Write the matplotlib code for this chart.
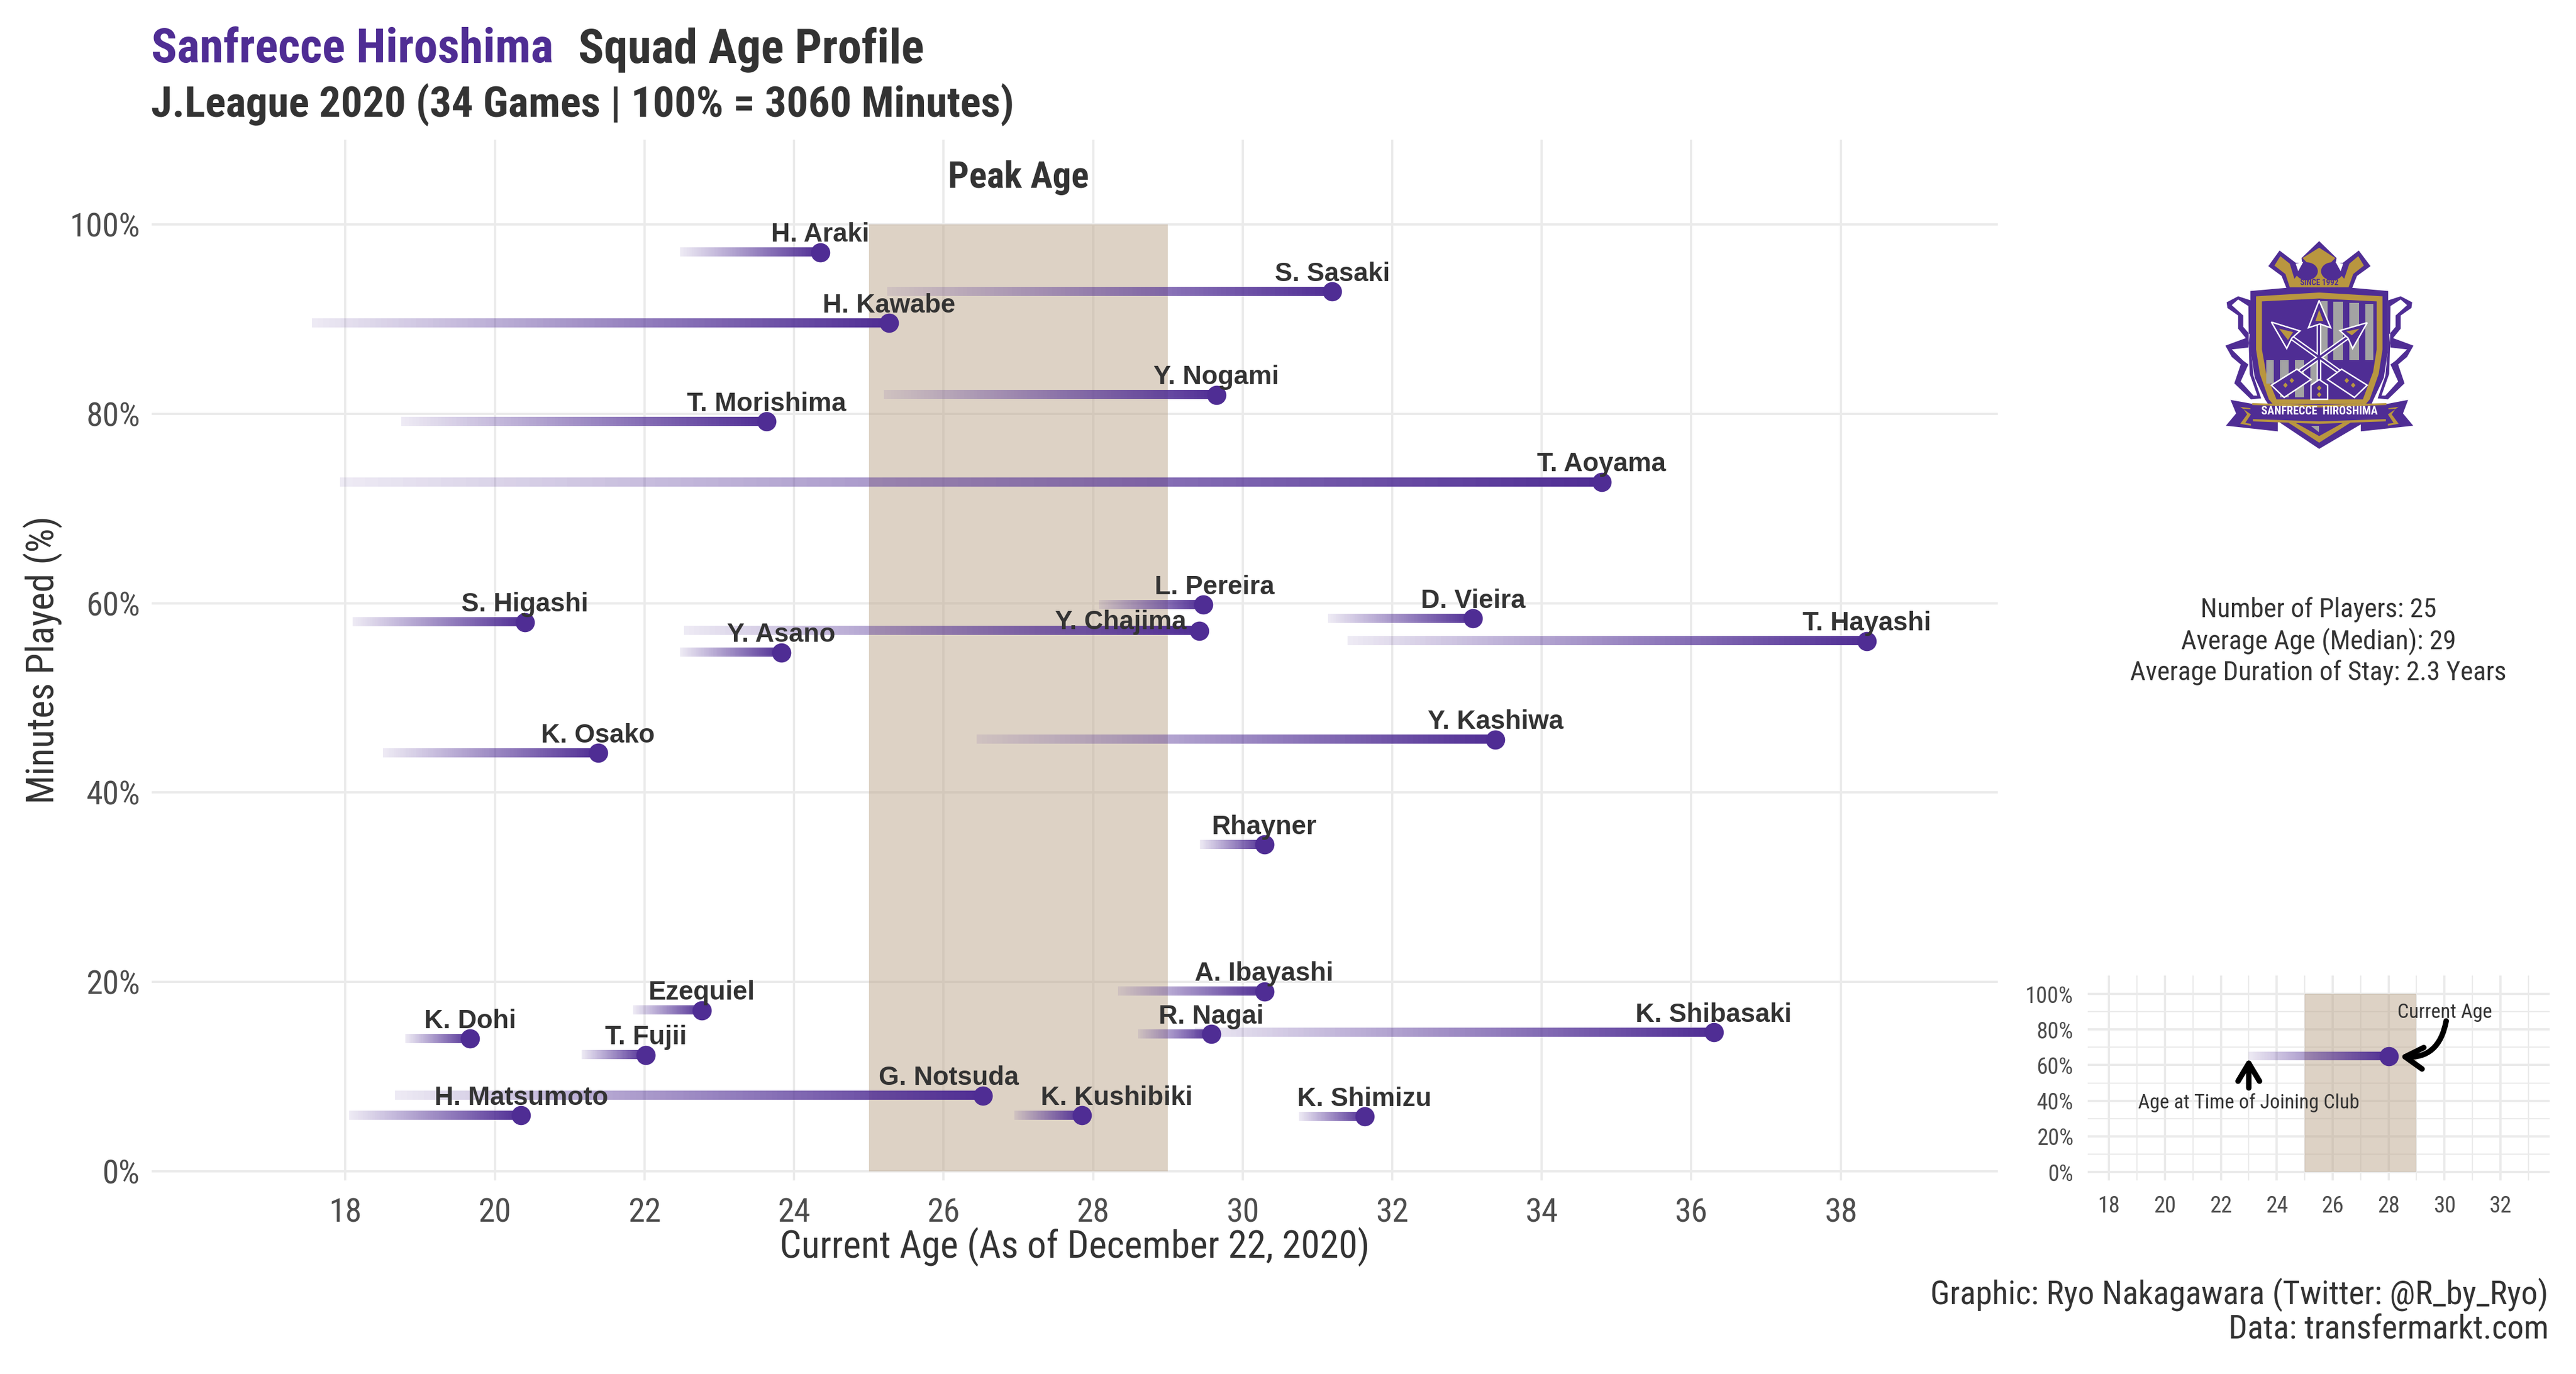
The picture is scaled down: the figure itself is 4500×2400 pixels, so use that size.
import numpy as np
import matplotlib
matplotlib.use("Agg")
import matplotlib.pyplot as plt
from matplotlib import font_manager as fm
from matplotlib.patches import Ellipse, Polygon, Rectangle, FancyArrowPatch

# Data
players = ["H. Araki", "S. Sasaki", "H. Kawabe", "Y. Nogami", "T. Morishima", "T. Aoyama",
           "L. Pereira", "S. Higashi", "Y. Chajima", "D. Vieira", "T. Hayashi", "Y. Asano",
           "K. Osako", "Y. Kashiwa", "Rhayner", "A. Ibayashi", "Ezequiel", "K. Shibasaki",
           "R. Nagai", "K. Dohi", "T. Fujii", "G. Notsuda", "H. Matsumoto", "K. Kushibiki",
           "K. Shimizu"]
age_joined = [22.48, 25.25, 17.55, 25.2, 18.75, 17.93,
              28.08, 18.1, 22.53, 31.14, 31.4, 22.48,
              18.5, 26.44, 29.43, 28.33, 21.85, 29.36,
              28.6, 18.8, 21.16, 18.66, 18.05, 26.95,
              30.75]
age_now = [24.35, 31.2, 25.27, 29.65, 23.63, 34.8,
           29.47, 20.4, 29.42, 33.08, 38.35, 23.83,
           21.38, 33.38, 30.29, 30.29, 22.77, 36.3,
           29.58, 19.67, 22.02, 26.53, 20.35, 27.85,
           31.63]
minutes_pct = [97.05, 92.9, 89.6, 82.0, 79.2, 72.8,
               59.85, 58.0, 57.1, 58.4, 56.0, 54.8,
               44.2, 45.6, 34.5, 19.0, 17.0, 14.67,
               14.5, 14.0, 12.3, 8.0, 5.9, 5.9,
               5.8]
x_ticks = [18, 20, 22, 24, 26, 28, 30, 32, 34, 36, 38]
y_ticks = [0, 20, 40, 60, 80, 100]
y_labels = ["0%", "20%", "40%", "60%", "80%", "100%"]
peak_age = (25, 29)
info_lines = ["Number of Players: 25", "Average Age (Median): 29", "Average Duration of Stay: 2.3 Years"]

inset_x_ticks = [18, 20, 22, 24, 26, 28, 30, 32]
inset_joined = 23
inset_now = 28
inset_pct = 65

PURPLE = "#4f2d94"
GOLD = "#b9963f"
GREY = "#a3a3a3"
DARK = "#333333"
TICK = "#4d4d4d"
PEAK = "#bda68c"
W, H = 4500, 2400

available = {f.name for f in fm.fontManager.ttflist}
NARROW = "Roboto Condensed" if "Roboto Condensed" in available else "Liberation Sans Narrow"
LABEL_FONT = "Liberation Sans"

fig = plt.figure(figsize=(15, 8), dpi=300, facecolor="white")


def px_axes(x0, y0, x1, y1, **kw):
    return fig.add_axes([x0 / W, 1 - y1 / H, (x1 - x0) / W, (y1 - y0) / H], **kw)


def px_text(x, y, s, **kw):
    kw.setdefault("family", NARROW)
    kw.setdefault("color", DARK)
    kw.setdefault("va", "center")
    return fig.text(x / W, 1 - y / H, s, **kw)


def gradient_line(ax, x0, x1, y, half):
    # fading bar, one row of colour stepping up to solid purple
    cols = np.tile(matplotlib.colors.to_rgba(PURPLE), (1, 100, 1))
    cols[0, :, 3] = np.linspace(0.1, 1, 100)
    ax.imshow(cols, extent=(x0, x1, y - half, y + half), aspect="auto", interpolation="nearest", zorder=3)


def clean(ax):
    for s in ax.spines.values():
        s.set_visible(False)
    ax.set_axisbelow(True)


# Main panel
ax = px_axes(265, 244, 3490, 2062)
ax.set_xlim(15.41, 40.1)
ax.set_ylim(-0.967, 108.95)
clean(ax)
ax.set_xticks(x_ticks)
ax.set_yticks(y_ticks, y_labels)
ax.grid(True, color="#ebebeb", lw=0.95)
ax.tick_params(length=0, labelsize=14, labelcolor=TICK)
ax.tick_params(axis="x", pad=7)
ax.tick_params(axis="y", pad=4.8)
for t in ax.get_xticklabels() + ax.get_yticklabels():
    t.set_family(NARROW)
ax.add_patch(Rectangle((peak_age[0], 0), peak_age[1] - peak_age[0], 100, facecolor=PEAK, alpha=0.5, lw=0, zorder=2))
ax.text(sum(peak_age) / 2, 104.95, "Peak Age", family=NARROW, weight="bold", fontsize=15.5, color=DARK, ha="center", va="center")

label_nudge = {"L. Pereira": (4.8, 0), "Y. Chajima": (-33, -3.9), "G. Notsuda": (-14.5, 0), "K. Kushibiki": (14.5, 0)}
for name, a0, a1, p in zip(players, age_joined, age_now, minutes_pct):
    gradient_line(ax, a0, a1, p, 0.46)
    ax.scatter([a1], [p], s=65, color=PURPLE, lw=0, zorder=4)
    dx, dy = label_nudge.get(name, (0, 0))
    ax.annotate(name, (a1, p), xytext=(dx, 7.3 + dy), textcoords="offset points", ha="center", va="center",
                family=LABEL_FONT, weight="bold", fontsize=11, color=DARK, zorder=5)

# Titles and outer text
px_text(264, 87, "Sanfrecce Hiroshima", weight="bold", fontsize=20.15, color=PURPLE)
px_text(1010, 87, "Squad Age Profile", weight="bold", fontsize=20)
px_text(264, 183, "J.League 2020 (34 Games | 100% = 3060 Minutes)", weight="bold", fontsize=18)
px_text(1877, 2178, "Current Age (As of December 22, 2020)", fontsize=16, ha="center")
px_text(75, 1153, "Minutes Played (%)", fontsize=16, ha="center", rotation=90)
for i, line in enumerate(info_lines):
    px_text(4050, 1065 + i * 55, line, fontsize=11.3, ha="center")
px_text(4452, 2261, "Graphic: Ryo Nakagawara (Twitter: @R_by_Ryo)", fontsize=13.9, ha="right")
px_text(4452, 2322, "Data: transfermarkt.com", fontsize=13.9, ha="right")

# Inset explaining the marks
inset = px_axes(3647, 1704, 4454, 2062)
inset.set_xlim(17.24, 33.76)
inset.set_ylim(-4.8, 110.3)
clean(inset)
inset.set_xticks(inset_x_ticks)
inset.set_yticks(y_ticks, y_labels)
inset.set_xticks(np.arange(19, 34, 2), minor=True)
inset.set_yticks(np.arange(10, 110, 20), minor=True)
inset.grid(True, which="major", color="#ebebeb", lw=0.95)
inset.grid(True, which="minor", color="#ebebeb", lw=0.55)
inset.tick_params(which="both", length=0)
inset.tick_params(labelsize=9.5, labelcolor=TICK, pad=6)
for t in inset.get_xticklabels() + inset.get_yticklabels():
    t.set_family(NARROW)
inset.add_patch(Rectangle((peak_age[0], 0), peak_age[1] - peak_age[0], 100, facecolor=PEAK, alpha=0.5, lw=0, zorder=2))
gradient_line(inset, inset_joined, inset_now, inset_pct, 2.4)
inset.scatter([inset_now], [inset_pct], s=65, color=PURPLE, lw=0, zorder=4)
inset.text(30, 89.5, "Current Age", family=NARROW, fontsize=8.5, color=DARK, ha="center", va="center", zorder=6)
inset.text(23, 39, "Age at Time of Joining Club", family=NARROW, fontsize=8.5, color=DARK, ha="center", va="center", zorder=6)
inset.add_patch(FancyArrowPatch((23, 47.2), (23, 64), arrowstyle="->,head_length=5,head_width=3", lw=2.3, color="black",
                                mutation_scale=1.5, shrinkA=0, shrinkB=0, zorder=6))
inset.add_patch(FancyArrowPatch((30.06, 84.8), (28.4, 64.9), connectionstyle="arc3,rad=-0.45", arrowstyle="->,head_length=5,head_width=3",
                                lw=2.3, color="black", mutation_scale=1.5, shrinkA=0, shrinkB=0, zorder=6))

# Club crest, traced by hand in its own little coordinate box
crest = px_axes(3700, 380, 4400, 840)
crest.set_xlim(0, 1568)
crest.set_ylim(1398, 0)
crest.axis("off")


def poly(points, fc, ec="none", lw=0, z=1):
    crest.add_patch(Polygon(points, closed=True, facecolor=fc, edgecolor=ec, lw=lw, zorder=z, joinstyle="miter"))


def mirror(points):
    return [(1576 - x, y) for x, y in points]


# crown
poly([(660, 378), (640, 310), (588, 258), (632, 175), (695, 240), (720, 240), (718, 215), (787, 125), (855, 215), (852, 240),
      (880, 240), (942, 175), (988, 258), (935, 310), (915, 378)], PURPLE, z=1)
poly([(672, 370), (655, 300), (612, 255), (635, 205), (672, 245), (690, 325), (740, 240), (722, 215), (787, 160),
      (850, 215), (832, 240), (885, 325), (905, 245), (940, 205), (962, 255), (920, 300), (902, 370)], GOLD, z=2)
for cx in (738, 838):
    crest.add_patch(Ellipse((cx, 285), 78, 82, color=PURPLE, zorder=3))
poly([(695, 245), (725, 235), (705, 285)], "white", z=4)
poly(mirror([(695, 245), (725, 235), (705, 285)]), "white", z=4)
crest.text(787, 345, "SINCE 1992", family=NARROW, weight="bold", fontsize=3.4, color=PURPLE, ha="center", va="center", zorder=4)

# side scrolls
scroll = [(520, 440), (470, 418), (425, 450), (428, 480), (470, 520), (470, 590), (500, 640), (420, 680), (445, 740), (480, 780), (455, 880),
          (520, 965), (560, 960), (530, 840), (520, 700)]
scroll_in = [(510, 470), (470, 435), (445, 465), (490, 520), (490, 580), (515, 620), (510, 690), (445, 700), (490, 760), (510, 780), (480, 870),
             (530, 945), (545, 945), (515, 830), (512, 700)]
for pts, inner in ((scroll, scroll_in), (mirror(scroll), mirror(scroll_in))):
    poly(pts, PURPLE, z=1)
    poly(inner, "white", z=2)

# shield
outer = [(518, 390), (660, 373), (915, 373), (1057, 390), (1057, 700), (1040, 850), (1000, 965), (960, 1090), (787, 1228), (635, 1090), (575, 965),
         (535, 850), (518, 700)]
gold = [(540, 418), (787, 398), (1035, 418), (1035, 700), (1020, 830), (985, 965), (908, 1090), (787, 1195), (668, 1090), (590, 965), (555, 830),
        (540, 700)]
field = [(563, 445), (787, 430), (1012, 445), (1012, 700), (998, 820), (958, 965), (620, 965), (580, 830), (563, 700)]
poly(outer, PURPLE, z=3)
poly(gold, GOLD, z=4)
poly(field, PURPLE, z=5)
poly([(695, 1090), (787, 1160), (880, 1090)], PURPLE, z=5)
poly([(755, 1105), (787, 1105), (787, 1140)], GREY, z=6)
for x0, x1, y0, y1 in [(795, 820, 445, 757), (843, 880, 448, 757), (905, 942, 453, 757), (967, 998, 460, 757),
                       (580, 610, 757, 880), (635, 668, 757, 955), (692, 728, 757, 955), (752, 778, 757, 905)]:
    poly([(x0, y0), (x1, y0), (x1, y1), (x0, y1)], GREY, z=6)

# arrows
for (x0, y0, x1, y1) in [(787, 960, 787, 500), (625, 900, 950, 585), (950, 900, 625, 585)]:
    crest.plot([x0, x1], [y0, y1], color="white", lw=2.0, zorder=7, solid_capstyle="butt")
    crest.plot([x0, x1], [y0, y1], color=PURPLE, lw=0.9, zorder=8, solid_capstyle="butt")
heads = [[(787, 440), (832, 585), (790, 565), (745, 585)], [(975, 558), (918, 695), (900, 640), (868, 600)], [(600, 555), (712, 602), (680, 640), (660, 695)]]
tips = [[(787, 490), (803, 550), (772, 550)], [(945, 590), (915, 625), (893, 605)], [(630, 590), (665, 650), (685, 608)]]
for h, tp in zip(heads, tips):
    poly(h, PURPLE, ec="white", lw=0.6, z=9)
    poly(tp, GOLD, z=10)
fletch = [[(755, 965), (755, 890), (787, 860), (820, 890), (820, 965)],
          [(600, 890), (700, 805), (755, 860), (650, 955)],
          [(975, 890), (875, 805), (820, 860), (925, 955)]]
for fl in fletch:
    poly(fl, PURPLE, ec="white", lw=0.6, z=9)
for sx, sy in [(787, 905), (787, 940), (680, 865), (655, 890), (895, 865), (920, 890)]:
    poly([(sx, sy - 14), (sx + 9, sy), (sx, sy + 14), (sx - 9, sy)], GOLD, z=10)

# ribbon
poly([(440, 968), (530, 990), (1050, 990), (1135, 968), (1115, 1040), (1155, 1105), (950, 1135), (950, 1085), (787, 1095), (625, 1085), (625, 1135),
      (422, 1105), (462, 1040)], PURPLE, z=11)
poly([(525, 985), (787, 995), (1050, 985), (1050, 995), (787, 1008), (525, 995)], GOLD, z=12)
poly([(528, 1070), (787, 1082), (1048, 1070), (1048, 1082), (787, 1095), (528, 1082)], GOLD, z=12)
for chev in ([(478, 1005), (518, 1012), (518, 1018), (490, 1015), (505, 1045), (478, 1095), (520, 1105), (520, 1095), (498, 1090), (520, 1045)],):
    poly(chev, GOLD, z=12)
    poly(mirror(chev), GOLD, z=12)
crest.text(787, 1030, "SANFRECCE  HIROSHIMA", family=NARROW, weight="bold", fontsize=4.8, color="white", ha="center", va="center", zorder=13)

fig.savefig("out.png", dpi=300, facecolor="white")
